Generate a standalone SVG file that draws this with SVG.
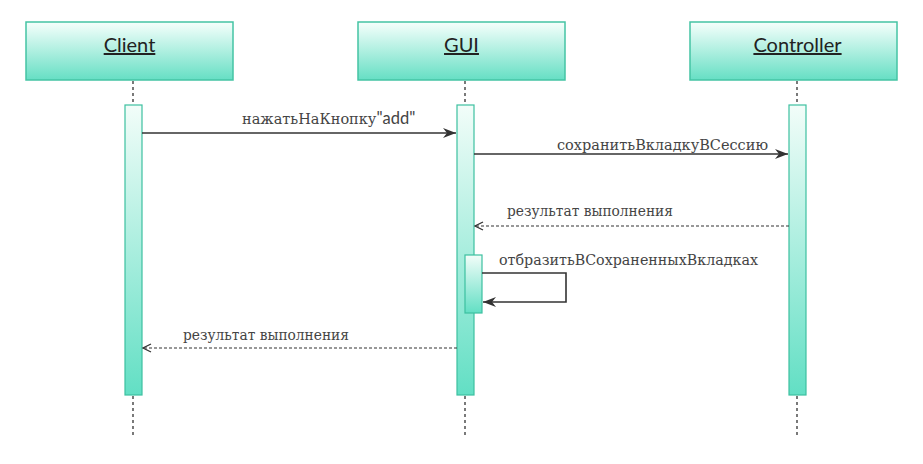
<svg xmlns="http://www.w3.org/2000/svg" width="923" height="464" viewBox="0 0 923 464">
<style>
.box{stroke:#44c4a4;stroke-width:1.5;fill:url(#hg)}
.act{stroke:#3cc0a0;stroke-width:1.2;fill:url(#ag)}
.life{stroke:#333;stroke-width:1.3;stroke-dasharray:3,3;fill:none}
.hdr{font-family:Lato,"Liberation Sans",sans-serif;font-size:20px;fill:#222;text-decoration:underline;text-anchor:middle}
.msg{stroke:#333;stroke-width:1.6;fill:none}
.ret{stroke:#333;stroke-width:1.2;stroke-dasharray:3,2;fill:none}
</style>
<defs>
<linearGradient id="hg" x1="0" y1="0" x2="0" y2="1">
<stop offset="0" stop-color="#f6fffc"/><stop offset="1" stop-color="#66dfc4"/>
</linearGradient>
<linearGradient id="ag" x1="0" y1="0" x2="0" y2="1">
<stop offset="0" stop-color="#f2fdf9"/><stop offset="1" stop-color="#62dfc4"/>
</linearGradient>
<marker id="fa" markerWidth="14" markerHeight="10" refX="13" refY="5" orient="auto" markerUnits="userSpaceOnUse">
<path d="M0,0 L13,5 L0,10 L4,5 Z" fill="#333"/>
</marker>
<marker id="oa" markerWidth="10" markerHeight="10" refX="9" refY="5" orient="auto" markerUnits="userSpaceOnUse">
<path d="M1,1 L9,5 L1,9" fill="none" stroke="#333" stroke-width="1.3"/>
</marker>
</defs>
<rect width="923" height="464" fill="#fff"/>
<g id="lifelines">
<line class="life" x1="133" y1="81" x2="133" y2="105"/>
<line class="life" x1="133" y1="396" x2="133" y2="436"/>
<line class="life" x1="465" y1="81" x2="465" y2="105"/>
<line class="life" x1="465" y1="396" x2="465" y2="436"/>
<line class="life" x1="797" y1="81" x2="797" y2="105"/>
<line class="life" x1="797" y1="396" x2="797" y2="436"/>
</g>
<g id="client">
<rect class="box" x="26" y="22" width="207" height="58"/>
<text class="hdr" x="129.5" y="52">Client</text>
<rect class="act" x="125" y="105" width="17" height="290"/>
</g>
<g id="gui">
<rect class="box" x="358" y="22" width="207" height="58"/>
<text class="hdr" x="461.5" y="52">GUI</text>
<rect class="act" x="457" y="105" width="17" height="290"/>
<rect class="act" x="465" y="255" width="17" height="58"/>
</g>
<g id="controller">
<rect class="box" x="690" y="22" width="207" height="58"/>
<text class="hdr" x="797.5" y="52">Controller</text>
<rect class="act" x="789" y="105" width="17" height="290"/>
</g>
<g id="connectors" font-family="'DejaVu Serif', serif" font-size="14.5" fill="#444">
<line class="msg" x1="142" y1="133" x2="456" y2="133" marker-end="url(#fa)"/>
<text x="242" y="124">нажатьНаКнопку<tspan font-family="Lato, 'Liberation Sans', sans-serif" font-size="16.5">"add"</tspan></text>
<line class="msg" x1="474" y1="154" x2="788" y2="154" marker-end="url(#fa)"/>
<text x="557" y="150" textLength="211" lengthAdjust="spacingAndGlyphs">сохранитьВкладкуВСессию</text>
<line class="ret" x1="789" y1="226" x2="475" y2="226" marker-end="url(#oa)"/>
<text x="507" y="216" textLength="166" lengthAdjust="spacingAndGlyphs">результат выполнения</text>
<polyline class="msg" points="482,273 566,273 566,302 483,302" marker-end="url(#fa)"/>
<text x="499" y="265" textLength="259" lengthAdjust="spacingAndGlyphs">отбразитьВСохраненныхВкладках</text>
<line class="ret" x1="457" y1="348" x2="143" y2="348" marker-end="url(#oa)"/>
<text x="183" y="340" textLength="166" lengthAdjust="spacingAndGlyphs">результат выполнения</text>
</g>
</svg>
